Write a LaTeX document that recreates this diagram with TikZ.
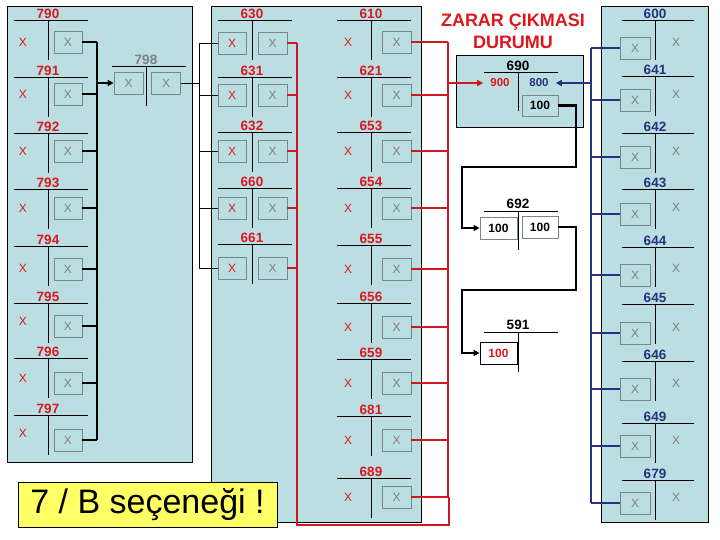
\documentclass[tikz,border=0pt]{standalone}
\usepackage{fontspec}
\setmainfont{Liberation Sans}
\usepackage{tikz}
\usetikzlibrary{positioning,arrows.meta}
\definecolor{PanelBlue}{RGB}{186,222,226}
\definecolor{AcctRed}{RGB}{220,24,30}
\definecolor{LineRed}{RGB}{205,25,35}
\definecolor{AcctNavy}{RGB}{40,50,125}
\definecolor{BoxGray}{RGB}{120,135,135}
\definecolor{NoteYellow}{RGB}{255,255,102}
\tikzset{
  panel/.style={draw=black, fill=PanelBlue, line width=0.9pt},
  ttl/.style={font=\bfseries\fontsize{13.5}{15}\selectfont, inner sep=0pt},
  xbox/.style={rectangle, draw=BoxGray, line width=0.8pt, minimum width=29pt,
    minimum height=22pt, inner sep=0pt, font=\fontsize{12}{14}\selectfont, text=gray},
  xmark/.style={font=\fontsize{12}{14}\selectfont, text=AcctRed, inner sep=0pt},
  tline/.style={line width=0.8pt},
  thinred/.style={draw=LineRed, line width=1.3pt},
  feed/.style={line width=2.5pt},
  pointer/.style={-{Triangle[length=6pt,width=6pt]}}
}

\begin{document}
\begin{tikzpicture}[x=1pt,y=-1pt,
    numbox/.style={xbox, text=black, font=\bfseries\fontsize{12}{14}\selectfont}
  ]
  \useasboundingbox (0,0) rectangle (720,540);

  % left panel: 790 ... 797
  \draw[panel] (7,6) rectangle (192,462);
  \coordinate (lbus) at (97,42);
  \coordinate (lbusend) at (97,440);
  \draw[feed] (lbus) -- (lbusend);
  \foreach \n/\ly/\by/\xy in {790/20/42/42, 791/77/94/94, 792/133/151/151, 793/189/208/208,
      794/246/269/268, 795/303/326/321, 796/358/383/378, 797/415/440/433}{
    \node[ttl, text=AcctRed] at (48,\ly-6) {\n};
    \draw[tline] (14,\ly) -- (88,\ly) (48,\ly) -- (48,\ly+40);
    \node[xmark] at (23,\xy) {X};
    \node[xbox, minimum width=28pt] (b\n) at (68,\by) {X};
    \draw[feed] (b\n.east) -- (b\n.east -| lbus);
  }

  % 798
  \node[ttl, text=gray] (t798) at (146,60) {798};
  \draw[tline] (112,66) -- (186,66) (146,66) -- (146,106);
  \node[xbox] (b798a) at (128.5,83) {X};
  \node[xbox] (b798b) at (166,83) {X};
  \draw[feed, pointer] (b798a.west -| lbus) -- (b798a.west);
  \coordinate (dtop) at (199,43);
  \coordinate (dbot) at (199,268);
  \draw[tline] (dtop) -- (dbot);
  \draw[tline] (b798b.east) -- (b798b.east -| dtop);

  % middle panel
  \draw[panel] (211,6) rectangle (421,522);
  \coordinate (rthin) at (297,43);
  \coordinate (rbus) at (448,42);
  \coordinate (rbusend) at (448,497);
  \draw[thinred] (rthin) -- (297,525) -- (449,525) -- (449,497);
  \foreach \n/\ly/\by in {630/20/43, 631/77/95, 632/132/151, 660/188/208, 661/244/268}{
    \node[ttl, text=AcctRed] at (252,\ly-6) {\n};
    \draw[tline] (218,\ly) -- (292,\ly) (252,\ly) -- (252,\ly+40);
    \node[xbox, text=AcctRed, minimum width=28pt] (l\n) at (232,\by) {X};
    \node[xbox] (r\n) at (272.5,\by) {X};
    \draw[tline] (l\n.west -| dtop) -- (l\n.west);
    \draw[thinred] (r\n.east) -- (r\n.east -| rthin);
  }
  \draw[feed, LineRed] (rbus) -- (rbusend);
  \foreach \n/\ly/\by in {610/20/42, 621/77/95, 653/132/151, 654/188/208, 655/245/269,
      656/303/327, 659/359/383, 681/416/440, 689/478/497}{
    \node[ttl, text=AcctRed] at (371,\ly-6) {\n};
    \draw[tline] (337,\ly) -- (411,\ly) (371,\ly) -- (371,\ly+40);
    \node[xmark] at (348,\by) {X};
    \node[xbox] (m\n) at (396.5,\by) {X};
    \draw[feed, LineRed] (m\n.east) -- (m\n.east -| rbus);
  }

  % heading and 690
  \node[font=\bfseries\fontsize{18}{22}\selectfont, text=AcctRed, align=center] (head)
    at (513,31) {ZARAR ÇIKMASI\\DURUMU};
  \draw[panel] (456,55) rectangle (583,127);
  \node[ttl] (t690) at (518,66) {690};
  \draw[tline] (484,72) -- (558,72) (518,72) -- (518,111);
  \node[ttl, text=AcctRed, font=\bfseries\fontsize{11.5}{13}\selectfont, inner sep=7pt] (n900) at (500,83) {900};
  \node[ttl, text=AcctNavy, font=\bfseries\fontsize{11.5}{13}\selectfont, inner sep=7pt] (n800) at (539,83) {800};
  \node[numbox, minimum width=36pt, minimum height=21pt] (c690) at (540,105.5) {100};
  \draw[feed, LineRed, pointer] (rbus |- n900) -- (n900.west);

  % 692
  \node[ttl] (t692) at (518,204) {692};
  \draw[tline] (484,211) -- (558,211) (518,211) -- (518,250);
  \node[numbox, minimum width=37pt] (k692a) at (498.5,228) {100};
  \node[numbox, minimum width=36pt] (k692b) at (540,227) {100};
  \draw[feed, pointer] (c690.east) -- (576,105.5) -- (576,167) -- (462,167) |- (k692a.west);

  % 591
  \node[ttl] (t591) at (518,325) {591};
  \draw[tline] (484,332) -- (558,332) (518,332) -- (518,372);
  \node[numbox, draw=black, text=AcctRed, minimum width=37pt] (k591) at (498.5,353) {100};
  \draw[feed, pointer] (k692b.east) -- (576,227) -- (576,290) -- (462,290) |- (k591.west);

  % right panel: 600 ... 679
  \draw[panel] (601,6) rectangle (708,522);
  \coordinate (nbus) at (591,48);
  \coordinate (nbusend) at (591,503);
  \draw[feed, AcctNavy] (nbus) -- (nbusend);
  \foreach \n/\ly/\by/\xy in {600/20/48/42, 641/76/100/94, 642/133/157/151, 643/189/214/207,
      644/247/275/268, 645/304/333/327, 646/361/389/383, 649/423/446/440, 679/480/503/497}{
    \node[ttl, text=AcctNavy] at (655,\ly-6) {\n};
    \draw[tline] (622,\ly) -- (694,\ly) (655,\ly) -- (655,\ly+40);
    \node[xbox, minimum width=30pt] (p\n) at (635,\by) {X};
    \node[xmark, text=gray] at (676,\xy) {X};
    \draw[feed, AcctNavy] (p\n.west) -- (p\n.west -| nbus);
  }
  \draw[feed, AcctNavy, pointer] (nbus |- n800) -- (n800.east);

  % note
  \node[draw=black, fill=NoteYellow, line width=0.9pt, minimum width=259pt, minimum height=45pt,
    font=\fontsize{34}{38}\selectfont] (note) at (147.5,504.5) {7 / B seçeneği !};
\end{tikzpicture}
\end{document}
